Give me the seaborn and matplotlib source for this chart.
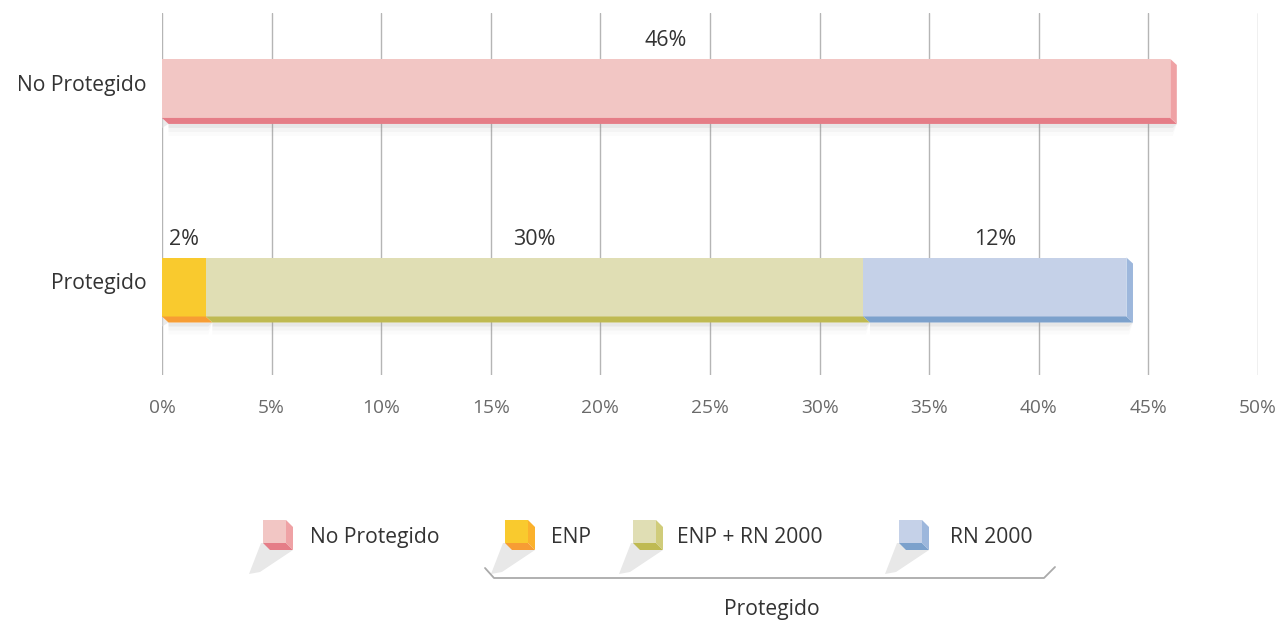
import numpy as np
import pandas as pd
import matplotlib.pyplot as plt
import matplotlib.transforms as mtransforms
import seaborn as sns
from matplotlib.patches import Polygon

# data (percent of surface)
categories = ["No Protegido", "Protegido"]
series = ["No Protegido", "ENP", "ENP + RN 2000", "RN 2000"]
series_row = ["No Protegido", "Protegido", "Protegido", "Protegido"]
shares = [46, 2, 30, 12]
x_ticks = list(range(0, 51, 5))
bracket_group = "Protegido"

# colours: face, bottom edge, side edge
face_cols = ["#f2c6c4", "#f9ca2e", "#e0deb4", "#c5d1e8"]
bottom_cols = ["#e57d87", "#f79d34", "#bfba52", "#7ca1cc"]
side_cols = ["#efa2a5", "#fbb12c", "#d0cc7a", "#9db7dc"]

sns.set_theme(style="white")
plt.rcParams["font.family"] = ["Open Sans", "DejaVu Sans"]

W, H = 1283, 624
fig = plt.figure(figsize=(W / 100, H / 100), dpi=100)
ax_l, ax_r, ax_t, ax_b = 162, 1258, 13, 375
ax = fig.add_axes([ax_l / W, 1 - ax_b / H, (ax_r - ax_l) / W, (ax_b - ax_t) / H])

df = pd.DataFrame({"series": series, "row": series_row, "share": shares})
df["end"] = df.groupby("row")["share"].cumsum()
df["left"] = df["end"] - df["share"]

ylim = (1.443, -0.380)
bar_h = 0.297
# stacked look: draw longest cumulative bar first
for i in df.sort_values("end", ascending=False).index:
    sns.barplot(data=df.loc[[i]], x="end", y="row", order=categories,
                orient="h", color=face_cols[i], saturation=1, width=bar_h,
                errorbar=None, ax=ax, zorder=3, linewidth=0)

ax.set_xlim(0, 50)
ax.set_ylim(*ylim)

# pixel -> data sizes for the 3d edges
px_x = (ax_r - ax_l) / 50
px_y = (ax_b - ax_t) / (ylim[0] - ylim[1])
dx, dy = 6.5 / px_x, 6 / px_y

last_in_row = df.groupby("row")["end"].idxmax().values
for i, r in df.iterrows():
    pos = categories.index(r["row"])
    yt, yb = pos - bar_h / 2, pos + bar_h / 2
    x0, x1 = r["left"], r["end"]
    # soft shadow under the bar
    for k, a in enumerate([0.10, 0.06, 0.03]):
        off = dy + (k + 1) * 4 / px_y
        ax.add_patch(Polygon([(x0 + dx, yb + dy), (x1 + dx, yb + dy),
                              (x1 + dx - 4 / px_x, yb + off), (x0 + dx, yb + off)],
                             closed=True, color="#888888", alpha=a, lw=0, zorder=2))
    if r["left"] == 0:
        ax.add_patch(Polygon([(x0, yb), (x0 + dx, yb + dy), (x0 + dx - 16 / px_x, yb + dy + 10 / px_y),
                              (x0 - 10 / px_x, yb + 12 / px_y)],
                             closed=True, color="#dddddd", alpha=0.6, lw=0, zorder=2))
    ax.add_patch(Polygon([(x0, yb), (x1, yb), (x1 + dx, yb + dy), (x0 + dx, yb + dy)],
                         closed=True, color=bottom_cols[i], lw=0, zorder=4))
    if i in last_in_row:
        ax.add_patch(Polygon([(x1, yt), (x1 + dx, yt + dy), (x1 + dx, yb + dy), (x1, yb)],
                             closed=True, color=side_cols[i], lw=0, zorder=4))
    ax.annotate(f"{r['share']}%", ((x0 + x1) / 2, yt), xytext=(0, 9),
                textcoords="offset points", ha="center", va="baseline",
                fontsize=15.5, color="#333333")

ax.set_xticks(x_ticks)
ax.set_xticklabels([f"{t}%" for t in x_ticks])
ax.set_xlabel("")
ax.set_ylabel("")
ax.grid(axis="x", color="#b5b5b5", lw=1)
ax.grid(axis="y", visible=False)
ax.set_axisbelow(True)
sns.despine(ax=ax, left=True, bottom=True)
ax.tick_params(axis="x", length=0, pad=17, labelsize=13.8, labelcolor="#6a6a6a")
ax.tick_params(axis="y", length=0, pad=11, labelsize=15.2, labelcolor="#333333")
lift = mtransforms.ScaledTranslation(0, 4 / 72, fig.dpi_scale_trans)
for lab in ax.get_yticklabels():
    lab.set_transform(lab.get_transform() + lift)

# legend with little cubes, drawn in pixel space
ov = fig.add_axes([0, 0, 1, 1])
ov.set_xlim(0, W)
ov.set_ylim(H, 0)
ov.axis("off")
leg_box_x = [263, 505, 633, 899]
leg_text_x = [310, 551, 677, 950]
cy, s, d = 520, 23, 7
for i, name in enumerate(series):
    bx = leg_box_x[i]
    ov.add_patch(Polygon([(bx + s, cy + s), (bx + s + d, cy + s + d), (bx + d - 10, cy + s + d + 22),
                          (bx - 14, cy + s + d + 24), (bx - 2, cy + s)],
                         closed=True, color="#cccccc", alpha=0.45, lw=0))
    ov.add_patch(Polygon([(bx, cy), (bx + s, cy), (bx + s, cy + s), (bx, cy + s)],
                         closed=True, color=face_cols[i], lw=0))
    ov.add_patch(Polygon([(bx, cy + s), (bx + s, cy + s), (bx + s + d, cy + s + d), (bx + d, cy + s + d)],
                         closed=True, color=bottom_cols[i], lw=0))
    ov.add_patch(Polygon([(bx + s, cy), (bx + s + d, cy + d), (bx + s + d, cy + s + d), (bx + s, cy + s)],
                         closed=True, color=side_cols[i], lw=0))
    ov.text(leg_text_x[i], cy + s / 2 + 6, name, ha="left", va="center",
            fontsize=15.2, color="#333333")

# bracket grouping the protected categories
ov.plot([485, 494, 1044, 1055], [568, 578, 578, 567], color="#aaaaaa", lw=1.3)
ov.text(772, 610, bracket_group, ha="center", va="center", fontsize=15.2, color="#333333")

fig.savefig("out.png", dpi=100)
